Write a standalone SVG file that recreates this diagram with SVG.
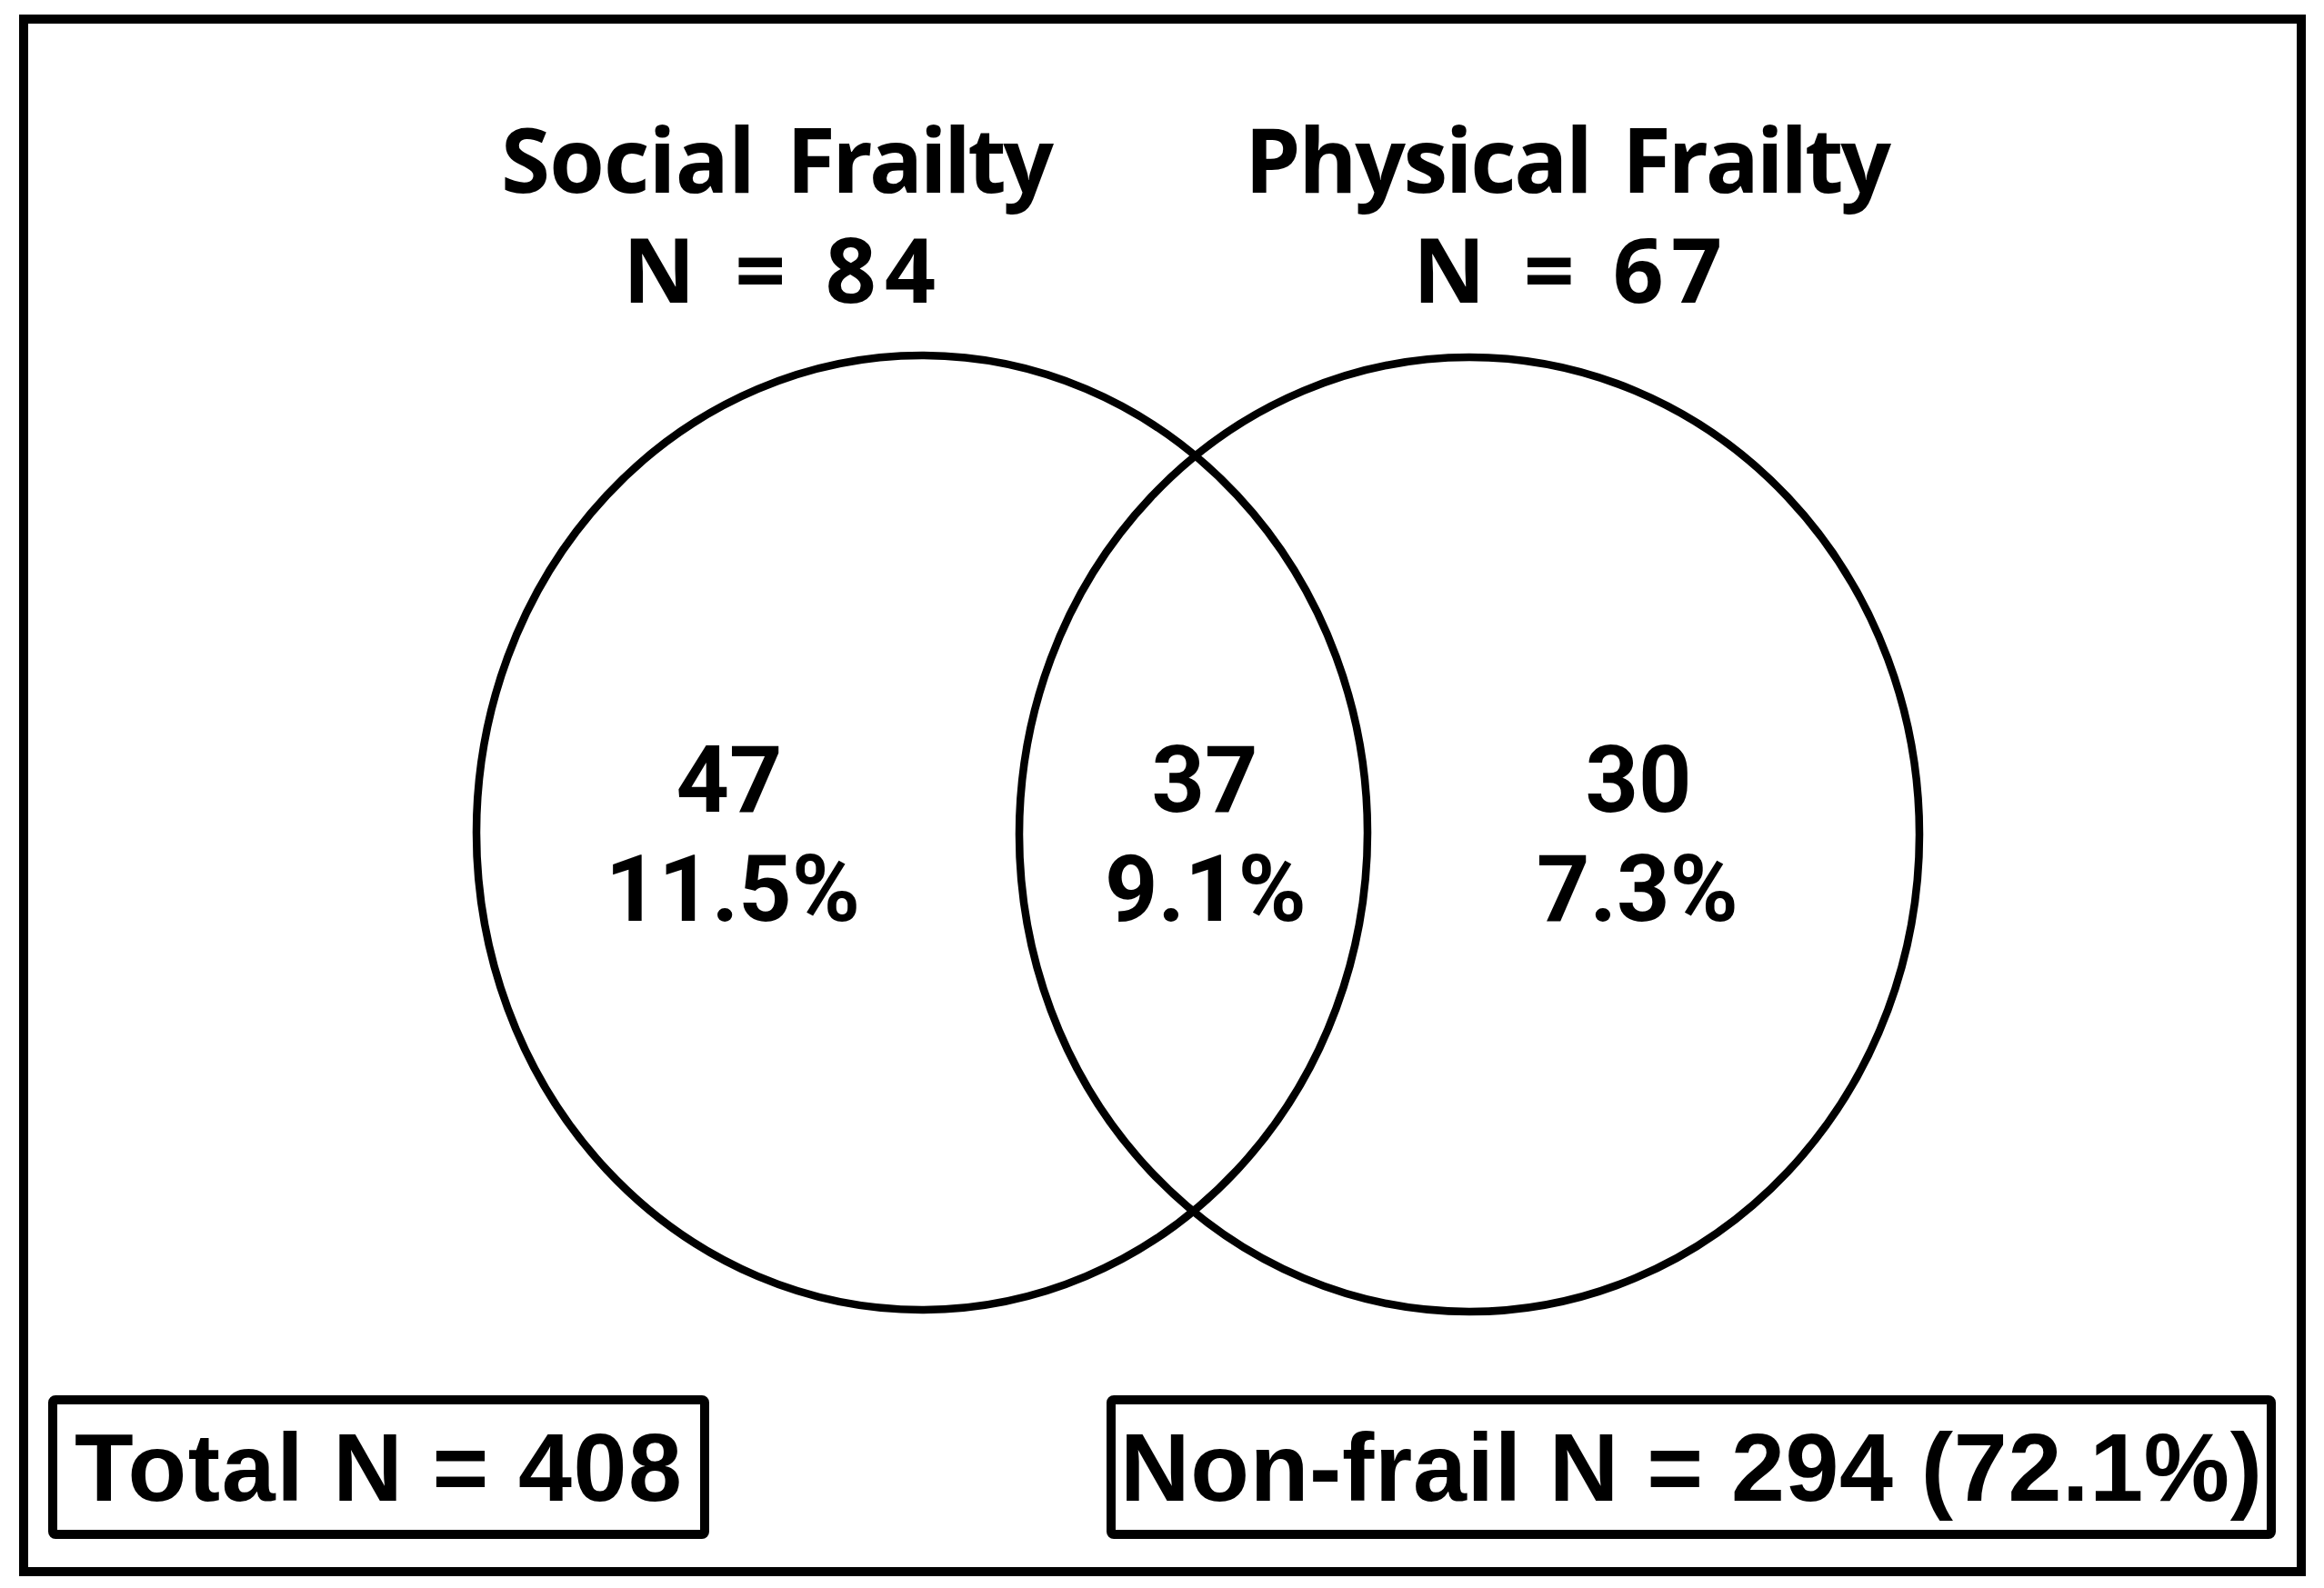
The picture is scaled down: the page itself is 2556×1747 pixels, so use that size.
<svg xmlns="http://www.w3.org/2000/svg" width="2556" height="1747" viewBox="0 0 2556 1747">
<style>
.frame{fill:none;stroke:#000;stroke-width:10}
.box{fill:#fff;stroke:#000;stroke-width:10}
.set{fill:none;stroke:#000;stroke-width:8.5}
.title{font-family:"Open Sans","Noto Sans",sans-serif;font-weight:700;font-size:98px;fill:#000}
.num{font-family:Roboto,"Open Sans",sans-serif;font-weight:700;font-size:102px;fill:#000;text-anchor:middle}
.foot{font-family:"Liberation Sans",Arial,sans-serif;font-weight:700;font-size:106px;fill:#000}
</style>
<rect width="2556" height="1747" fill="#fff"/>
<rect class="frame" x="26" y="21" width="2505" height="1708"/>
<g id="social-frailty">
<ellipse class="set" cx="1014" cy="916" rx="490" ry="525"/>
<text class="title"><tspan x="551" y="212" textLength="280" lengthAdjust="spacing">Social</tspan><tspan x="865" y="212" textLength="294" lengthAdjust="spacing">Frailty</tspan><tspan x="857" y="333" text-anchor="middle" textLength="344" lengthAdjust="spacing">N = 84</tspan></text>
<text class="num"><tspan x="802" y="893">47</tspan><tspan x="806" y="1013">11.5%</tspan></text>
</g>
<g id="physical-frailty">
<ellipse class="set" cx="1616" cy="918" rx="495" ry="525"/>
<text class="title"><tspan x="1369" y="212" textLength="383" lengthAdjust="spacing">Physical</tspan><tspan x="1784" y="212" textLength="296" lengthAdjust="spacing">Frailty</tspan><tspan x="1724" y="333" text-anchor="middle" textLength="340" lengthAdjust="spacing">N = 67</tspan></text>
<text class="num"><tspan x="1802" y="893">30</tspan><tspan x="1801" y="1013">7.3%</tspan></text>
</g>
<g id="overlap">
<text class="num"><tspan x="1325" y="893">37</tspan><tspan x="1326" y="1013">9.1%</tspan></text>
</g>
<g id="total">
<rect class="box" x="58" y="1540" width="717" height="148" rx="3"/>
<text class="foot" x="82" y="1651" textLength="668" lengthAdjust="spacing">Total N = 408</text>
</g>
<g id="non-frail">
<rect class="box" x="1222" y="1540" width="1276" height="148" rx="3"/>
<text class="foot" x="1232" y="1651" textLength="1256" lengthAdjust="spacing">Non-frail N = 294 (72.1%)</text>
</g>
<g id="connectors"></g>
</svg>
